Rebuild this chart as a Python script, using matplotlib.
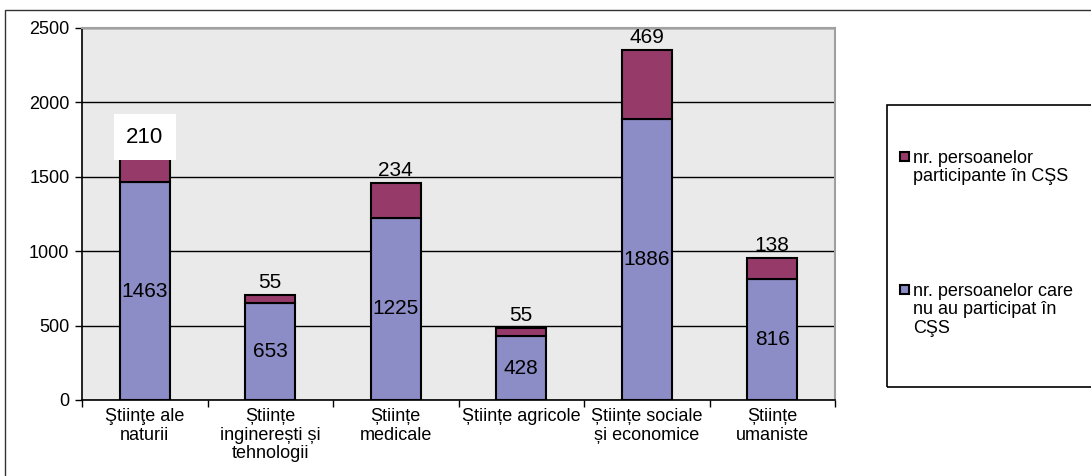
"""Bare stivuite: persoane participante / neparticipante în CŞS, pe domenii."""

import matplotlib
matplotlib.use("Agg")
import matplotlib.pyplot as plt
from matplotlib.patches import Rectangle
import numpy as np

categories = [
    "Ştiinţe ale\nnaturii",
    "Științe\ninginerești și\ntehnologii",
    "Științe\nmedicale",
    "Științe agricole",
    "Științe sociale\nși economice",
    "Științe\numaniste",
]
nu_au_participat = [1463, 653, 1225, 428, 1886, 816]
participante = [210, 55, 234, 55, 469, 138]
y_ticks = [0, 500, 1000, 1500, 2000, 2500]

label_top = "nr. persoanelor\nparticipante în CŞS"
label_bottom = "nr. persoanelor care\nnu au participat în\nCŞS"

blue = "#8c8cc6"
maroon = "#963a6a"

plt.rcParams["font.family"] = ["Liberation Sans", "DejaVu Sans"]

W, H = 1091, 476
fig = plt.figure(figsize=(W / 100, H / 100), dpi=100)

# outer frame of the original chart object (cropped right and bottom)
fig.patches.append(Rectangle((5 / W, -0.1), 1.2, 1 - 10 / H + 0.1,
                             transform=fig.transFigure, fill=False,
                             edgecolor="#333333", linewidth=1.0))

ax = fig.add_axes([82 / W, 1 - 400 / H, (835 - 82) / W, (400 - 28) / H])
ax.set_facecolor("#eaeaea")

x = np.arange(len(categories))
b1 = ax.bar(x, nu_au_participat, width=0.4, color=blue, edgecolor="black",
            linewidth=1.5, zorder=3)
b2 = ax.bar(x, participante, width=0.4, bottom=nu_au_participat, color=maroon,
            edgecolor="black", linewidth=1.5, zorder=3)

for xi, v in zip(x, nu_au_participat):
    ax.text(xi, v / 2, str(v), ha="center", va="center", fontsize=15, zorder=4)

for xi, lo, v in zip(x, nu_au_participat, participante):
    if xi == 0:
        ax.annotate(str(v), (xi, lo + v), xytext=(0, 10), textcoords="offset points",
                    ha="center", va="center", fontsize=16, zorder=5,
                    bbox=dict(boxstyle="square,pad=0.55", facecolor="white",
                              edgecolor="none"))
    else:
        ax.annotate(str(v), (xi, lo + v), xytext=(0, 2), textcoords="offset points",
                    ha="center", va="bottom", fontsize=15, zorder=4)

ax.set_xlim(-0.5, len(categories) - 0.5)
ax.set_ylim(0, 2500)
ax.set_yticks(y_ticks)
ax.yaxis.grid(True, color="black", linewidth=1.0, zorder=1)
ax.set_axisbelow(True)

ax.set_xticks(np.arange(-0.5, len(categories), 1.0))
ax.set_xticklabels([])
ax.set_xticks(x, minor=True)
ax.set_xticklabels(categories, minor=True, fontsize=13, linespacing=1.1)
ax.tick_params(axis="x", which="major", length=5, width=1, direction="out")
ax.tick_params(axis="x", which="minor", length=0, pad=6)
ax.tick_params(axis="y", length=5, width=1, labelsize=13, pad=4)

for side in ("top", "right"):
    ax.spines[side].set_color("#a0a0a0")
    ax.spines[side].set_linewidth(1.5)
for side in ("left", "bottom"):
    ax.spines[side].set_color("black")
    ax.spines[side].set_linewidth(1.2)

# legend: frame, square key aligned with first text line
fig.patches.append(Rectangle((887 / W, 1 - 387 / H), 0.3, (387 - 105) / H,
                             transform=fig.transFigure, fill=False,
                             edgecolor="black", linewidth=1.2))
for color, label, ytop in [(maroon, label_top, 151), (blue, label_bottom, 284)]:
    fig.patches.append(Rectangle((900 / W, 1 - (ytop + 10) / H), 9 / W, 9 / H,
                                 transform=fig.transFigure, facecolor=color,
                                 edgecolor="black", linewidth=1.5))
    fig.text(913 / W, 1 - (ytop - 1) / H, label, ha="left", va="top",
             fontsize=13, linespacing=1.1)

fig.savefig("out.png", dpi=100)
